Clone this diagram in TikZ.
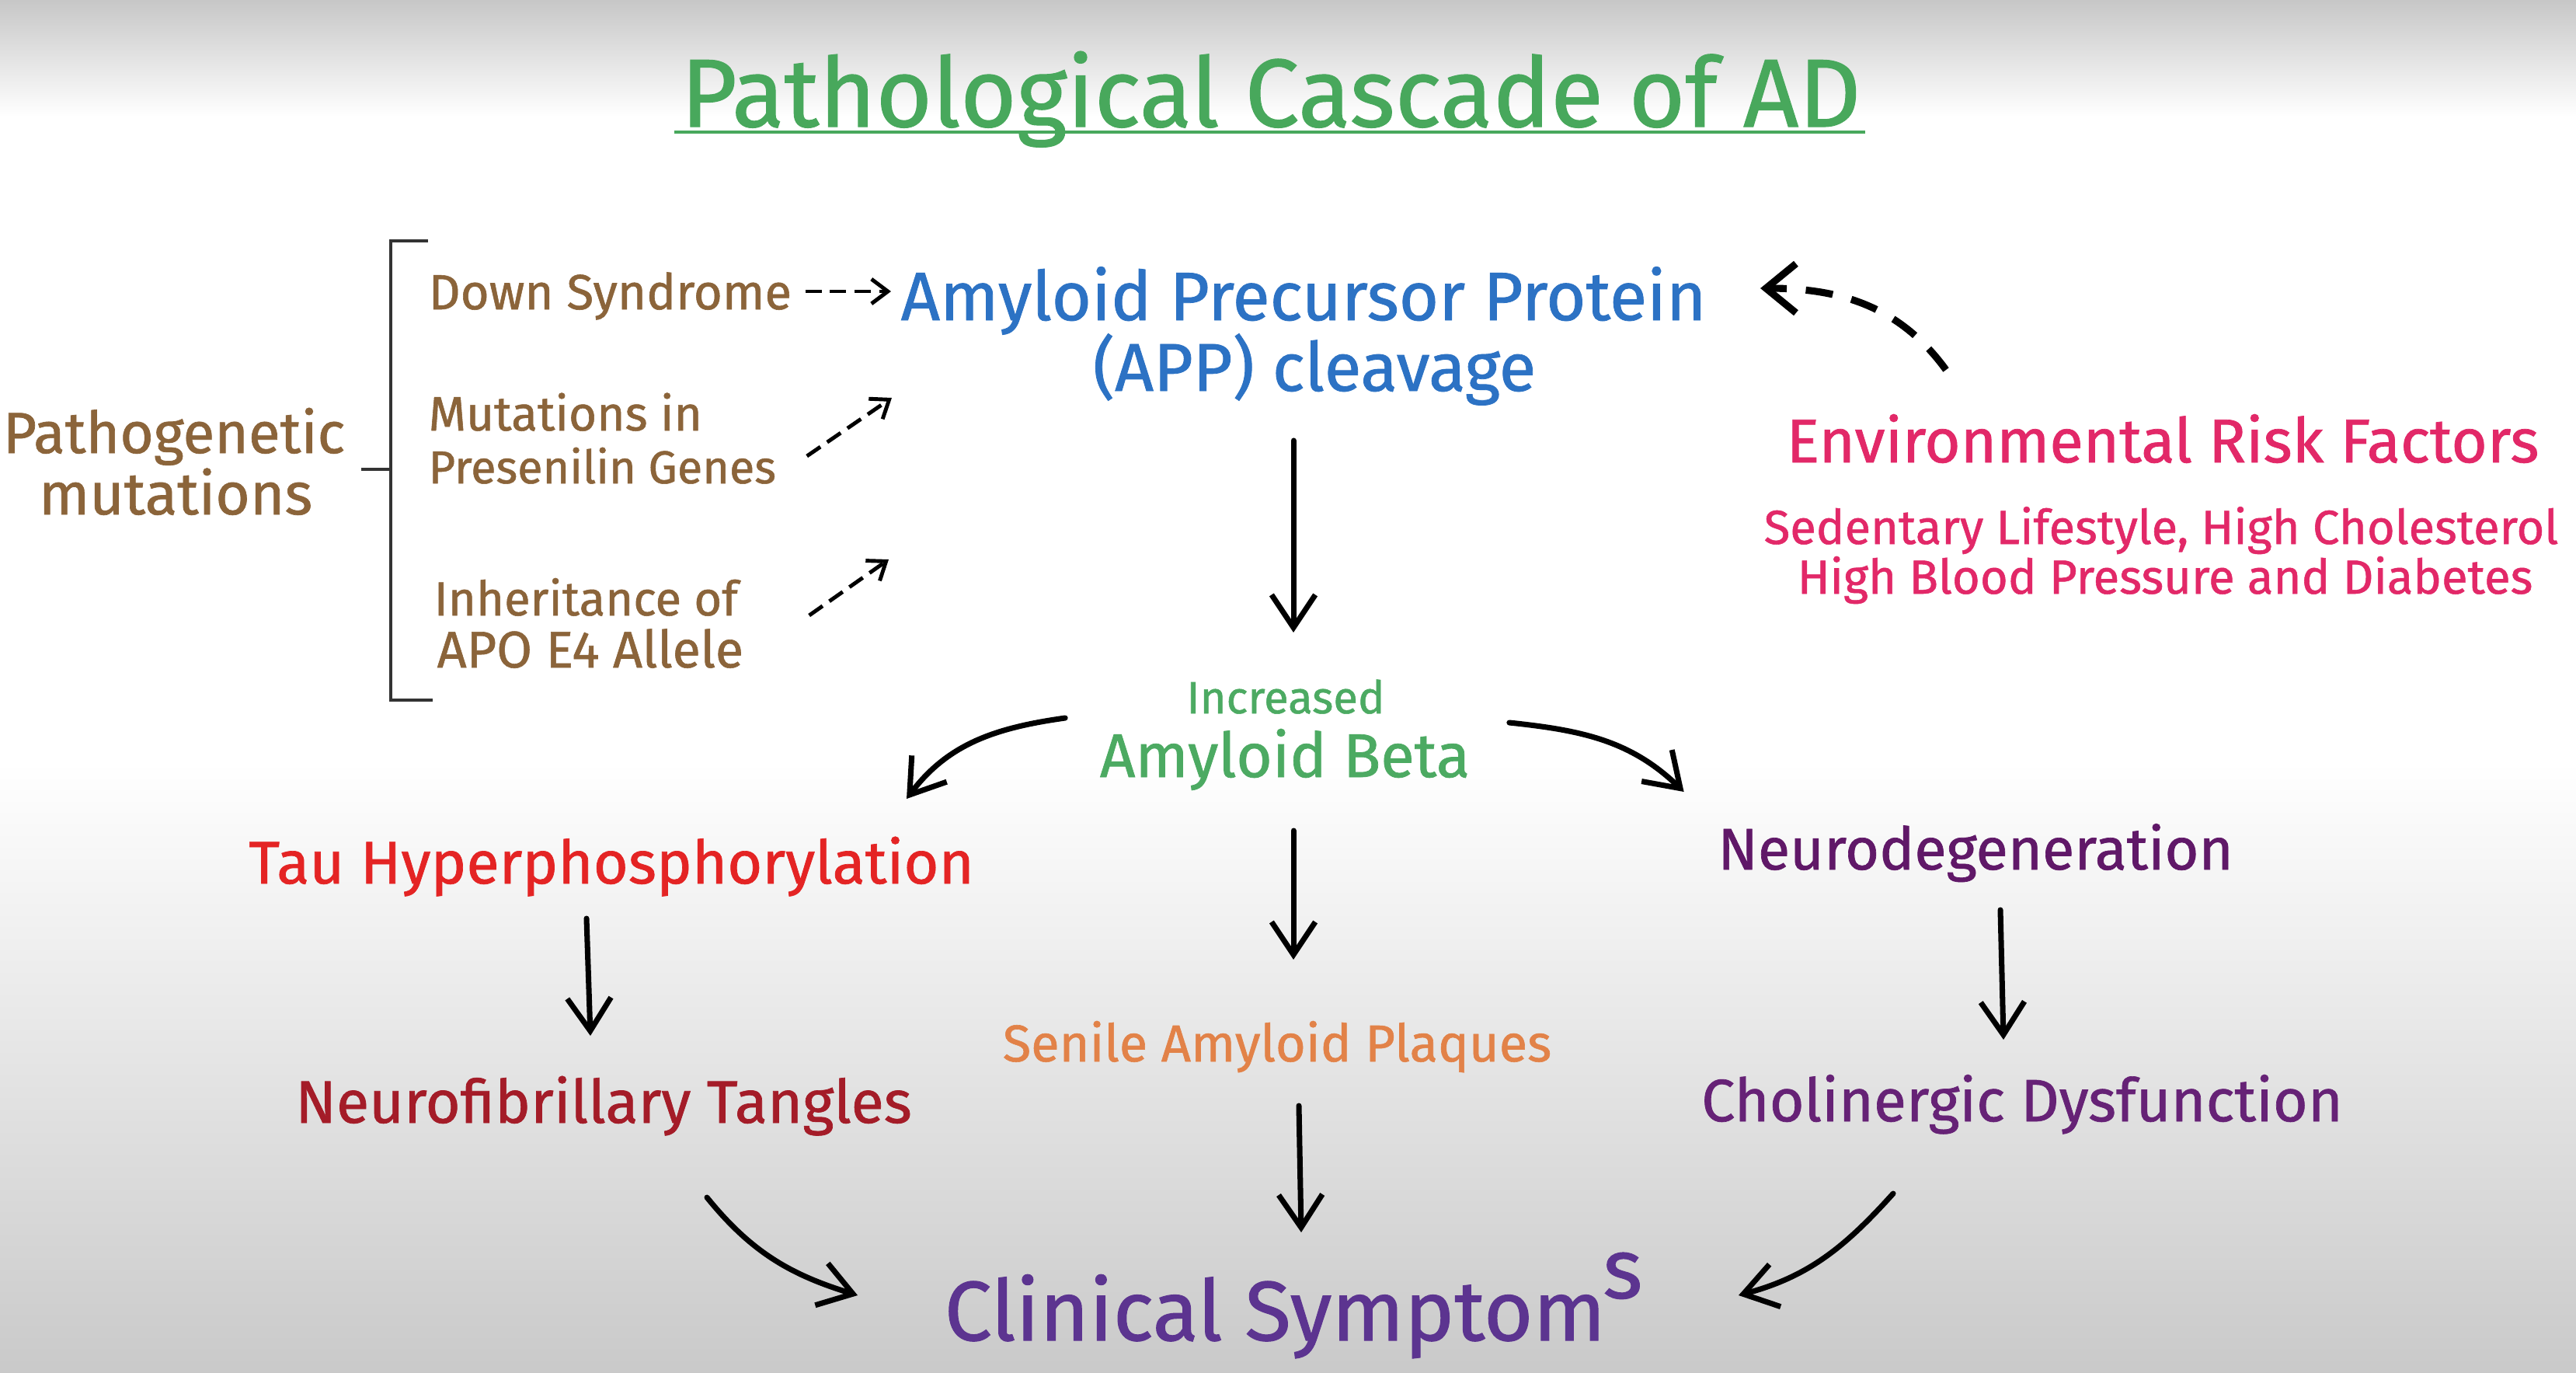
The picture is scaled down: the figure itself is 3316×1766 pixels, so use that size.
\documentclass[tikz,border=0pt]{standalone}
\usepackage{fontspec}
\setmainfont{Fira Sans}[BoldFont={Fira Sans},BoldFeatures={FakeBold=0.9}]
\usetikzlibrary{arrows.meta,calc}
\definecolor{ttlgreen}{RGB}{72,168,92}
\definecolor{brownt}{RGB}{139,100,58}
\definecolor{appblue}{RGB}{44,114,196}
\definecolor{envpink}{RGB}{226,40,104}
\definecolor{abgreen}{RGB}{76,170,98}
\definecolor{taured}{RGB}{228,36,36}
\definecolor{nftred}{RGB}{164,28,40}
\definecolor{senor}{RGB}{226,130,72}
\definecolor{neurop}{RGB}{96,24,104}
\definecolor{cholp}{RGB}{102,34,118}
\definecolor{clinp}{RGB}{92,52,144}
\newcommand\fw[2]{\resizebox{#1cm}{!}{#2}}
\begin{document}
\begin{tikzpicture}[x=0.01cm,y=0.01cm,
  txt/.style={inner sep=0pt,anchor=base,font=\fontsize{20}{24}\selectfont\bfseries},
  arr/.style={line width=2pt,line cap=round,-{Straight Barb[length=12pt,width=16pt]}},
  darr/.style={line width=1.4pt,dash pattern=on 6pt off 3pt,-{Straight Barb[length=6pt,width=9pt]}},
  earr/.style={line width=2.6pt,dash pattern=on 10pt off 7pt,-{Straight Barb[length=11pt,width=18pt]}}]
\useasboundingbox (0,0) rectangle (3316,-1766);
\fill[white] (0,0) rectangle (3316,-1766);
\shade[top color=black!22,bottom color=white] (0,0) rectangle (3316,-150);
\shade[top color=white,bottom color=black!21] (0,-980) rectangle (3316,-1766);

% title
\node[txt,text=ttlgreen] (title) at (1636,-163) {\fw{15.18}{Pathological Cascade of AD}};
\draw[ttlgreen,line width=1.4pt] ($(title.base west)+(-8,-7)$) -- ($(title.base east)+(5,-7)$);

% pathogenetic mutations
\node[txt,text=brownt] (patho1) at (224,-583) {\fw{4.40}{Pathogenetic}};
\node[txt,text=brownt] (patho2) at (226,-662) {\fw{3.52}{mutations}};
\draw[black!80,line width=1.1pt] (551,-310) -- (503,-310) -- (503,-901) -- (557,-901);
\draw[black!80,line width=1.1pt] (465,-604) -- (503,-604);

\node[txt,anchor=base west,text=brownt] (down) at (551,-398) {\fw{4.67}{Down Syndrome}};
\node[txt,anchor=base west,text=brownt] (pres1) at (551,-554) {\fw{3.52}{Mutations in}};
\node[txt,anchor=base west,text=brownt] (pres2) at (551,-622) {\fw{4.47}{Presenilin Genes}};
\node[txt,anchor=base west,text=brownt] (inh1) at (558,-792) {\fw{3.91}{Inheritance of}};
\node[txt,anchor=base west,text=brownt] (inh2) at (562,-859) {\fw{3.94}{APO E4 Allele}};

% APP
\node[txt,text=appblue] (app1) at (1678,-412) {\fw{10.36}{Amyloid Precursor Protein}};
\node[txt,text=appblue] (app2) at (1692,-503) {\fw{5.70}{(APP) cleavage}};

% environmental
\node[txt,text=envpink] (env) at (2784,-595) {\fw{9.68}{Environmental Risk Factors}};
\node[txt,text=envpink] (envs1) at (2782,-700) {\fw{10.22}{Sedentary Lifestyle, High Cholesterol}};
\node[txt,text=envpink] (envs2) at (2787,-764) {\fw{9.46}{High Blood Pressure and Diabetes}};

% amyloid beta
\node[txt,text=abgreen] (incr) at (1655,-918) {\fw{2.55}{Increased}};
\node[txt,text=abgreen] (ab) at (1654,-1000) {\fw{4.76}{Amyloid Beta}};

\node[txt,text=taured] (tau) at (787,-1137) {\fw{9.33}{Tau Hyperphosphorylation}};
\node[txt,text=nftred] (nft) at (777,-1445) {\fw{7.93}{Neurofibrillary Tangles}};
\node[txt,text=senor] (senile) at (1644,-1366) {\fw{7.06}{Senile Amyloid Plaques}};
\node[txt,text=neurop] (neuro) at (2543,-1119) {\fw{6.63}{Neurodegeneration}};
\node[txt,text=cholp] (chol) at (2603,-1443) {\fw{8.25}{Cholinergic Dysfunction}};
\node[txt,text=clinp] (clin) at (1665,-1725) {\fw{8.98}{Clinical Symptom\kern-0.03em\raisebox{0.5em}{s}}};

% dashed arrows into APP
\draw[darr] ($(down.base east)+(17,23)$) -- ($(app1.base west)+(-12,37)$);
\draw[darr] ($(pres2.base east)+(39,35)$) -- ($(app1.base west)+(-11,-100)$);
\draw[darr] ($(inh1.base east)+(91,0)$) -- ($(app1.base west)+(-15,-308)$);
\draw[earr] ($(env.base west)+(206,119)$) to[out=126,in=0] ($(app1.base east)+(69,41)$);

% solid arrows
\draw[arr] ($(app2.base)+(-27,-64)$) -- ($(incr.base)+(10,104)$);
\draw[arr] ($(ab.base west)+(-44,76)$) to[out=188,in=53] ($(tau.base)+(380,109)$);
\draw[arr] ($(ab.base east)+(50,70)$) to[out=-6,in=136] ($(neuro.base west)+(-43,100)$);
\draw[arr] ($(ab.base)+(11,-69)$) -- ($(senile.base)+(21,131)$);
\draw[arr] ($(tau.base)+(-32,-45)$) -- ($(nft.base)+(-17,112)$);
\draw[arr] ($(neuro.base)+(32,-52)$) -- ($(chol.base)+(-24,105)$);
\draw[arr] ($(senile.base)+(28,-57)$) -- ($(clin.base)+(10,139)$);
\draw[arr] ($(nft.base)+(133,-96)$) to[out=-51,in=163] ($(clin.base west)+(-111,58)$);
\draw[arr] ($(chol.base)+(-166,-93)$) to[out=228,in=15] ($(clin.base east)+(123,58)$);
\end{tikzpicture}
\end{document}
